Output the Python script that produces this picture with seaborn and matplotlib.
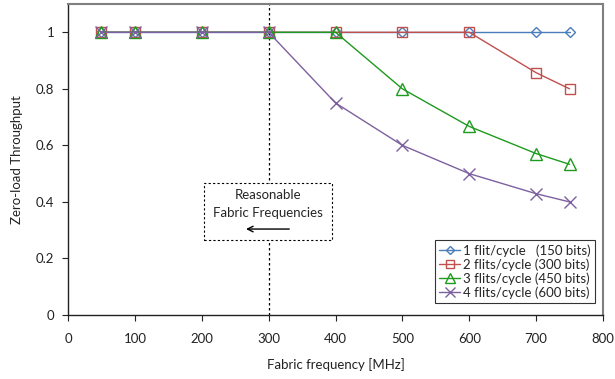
import matplotlib
matplotlib.use("Agg")
import matplotlib.pyplot as plt
import seaborn as sns
from matplotlib.patches import Rectangle

# Data
freq = [50, 100, 200, 300, 400, 500, 600, 700, 750]
tput_1flit = [1, 1, 1, 1, 1, 1, 1, 1, 1]
tput_2flit = [1, 1, 1, 1, 1, 1, 1, 0.857, 0.8]
tput_3flit = [1, 1, 1, 1, 1, 0.8, 0.667, 0.571, 0.533]
tput_4flit = [1, 1, 1, 1, 0.75, 0.6, 0.5, 0.429, 0.4]
labels = ["1 flit/cycle   (150 bits)", "2 flits/cycle (300 bits)",
          "3 flits/cycle (450 bits)", "4 flits/cycle (600 bits)"]

sns.set_style("white")
plt.rcParams["font.family"] = ["Lato", "DejaVu Sans"]

fig = plt.figure(figsize=(6.15, 3.79), dpi=100)
ax = fig.add_axes([0.1106, 0.1689, 0.8699, 0.8205])

series = [
    (tput_1flit, "#4A7EBB", "D", 5),
    (tput_2flit, "#C0504D", "s", 7),
    (tput_3flit, "#1E9A1E", "^", 8),
    (tput_4flit, "#7D60A0", "x", 8),
]
for (vals, col, mk, ms), lab in zip(series, labels):
    sns.lineplot(x=freq, y=vals, ax=ax, color=col, marker=mk, markersize=ms,
                 markerfacecolor="none" if mk != "x" else col,
                 markeredgecolor=col, markeredgewidth=1.0, linewidth=1.0,
                 label=lab)

ax.set_xlim(0, 800)
ax.set_ylim(0, 1.1)
ax.set_xticks(range(0, 801, 100))
ax.set_yticks([0, 0.2, 0.4, 0.6, 0.8, 1.0])
ax.set_yticklabels(["0", "0.2", "0.4", "0.6", "0.8", "1"])
ax.tick_params(axis="both", labelsize=9.5, colors="#222222", length=4,
               width=0.8, direction="out", bottom=True, left=True, pad=6)
ax.tick_params(axis="x", pad=9)
for side in ["left", "bottom"]:
    ax.spines[side].set_color("#222222")
    ax.spines[side].set_linewidth(1.0)
for side in ["top", "right"]:
    ax.spines[side].set_color("#808080")
    ax.spines[side].set_linewidth(1.5)

ax.set_xlabel("Fabric frequency [MHz]", fontsize=9.5, color="#222222", labelpad=9)
ax.set_ylabel("Zero-load Throughput", fontsize=9.5, color="#222222", labelpad=9)

ax.axvline(300, color="black", linestyle=(0, (2, 2)), linewidth=0.9, zorder=1)

box = Rectangle((203, 0.265), 192, 0.201, facecolor="white", edgecolor="black",
                linestyle=(0, (2, 2)), linewidth=0.8, zorder=2)
ax.add_patch(box)
ax.text(299, 0.392, "Reasonable\nFabric Frequencies", ha="center", va="center",
        fontsize=9.5, linespacing=1.65, zorder=3)
ax.annotate("", xy=(262, 0.304), xytext=(335, 0.304),
            arrowprops=dict(arrowstyle="->", color="black", lw=1.0), zorder=3)

leg = ax.legend(loc="lower right", bbox_to_anchor=(0.985, 0.04), fontsize=9.5,
                frameon=True, fancybox=False, edgecolor="black",
                handlelength=1.6, handletextpad=0.25, borderpad=0.3,
                labelspacing=0.1, borderaxespad=0, markerscale=0.85)
leg.get_frame().set_linewidth(0.8)

fig.savefig("out.png", dpi=100)
